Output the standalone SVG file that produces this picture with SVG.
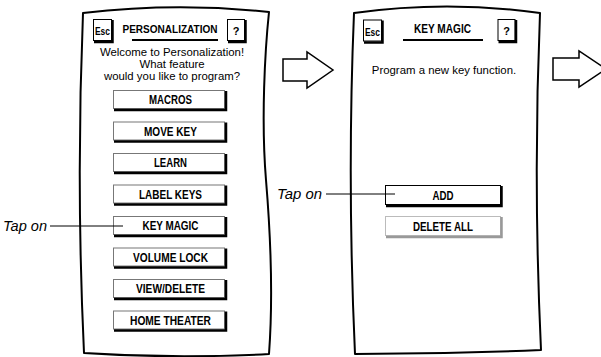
<svg xmlns="http://www.w3.org/2000/svg" width="601" height="357" viewBox="0 0 601 357">
<style>
.panel{fill:#fff;stroke:#000;stroke-width:2;stroke-linejoin:round}
.btn{fill:#fff;stroke:#777;stroke-width:1}
.sh{fill:none;stroke:#000;stroke-width:2.5}
.btnk{fill:#fff;stroke:#000;stroke-width:1}
.btng{fill:#fff;stroke:#bbb;stroke-width:1}
.shg{fill:none;stroke:#999;stroke-width:2.5}
.lbl{font-family:"Liberation Sans Narrow","Liberation Sans",Arial,sans-serif;font-weight:bold;font-size:12px;fill:#000;text-anchor:middle}
.ttl{font-family:"Liberation Sans Narrow","Liberation Sans",Arial,sans-serif;font-weight:bold;font-size:12.5px;fill:#000;text-anchor:middle}
.sm{font-size:11px}
.ttl1{font-size:10.5px}
.body{font-family:"Liberation Sans",Arial,sans-serif;font-size:11.4px;fill:#000;text-anchor:middle}
.tap{font-family:"Liberation Sans Narrow","Liberation Sans",Arial,sans-serif;font-style:italic;font-size:15px;fill:#000}
.ul{stroke:#000;stroke-width:2}
.conn{stroke:#000;stroke-width:1;fill:none}
.arrow{fill:#fff;stroke:#000;stroke-width:1.5;stroke-linejoin:miter}
</style>

<g id="panel-personalization">
<path class="panel" d="M83,13 Q176,2 269,12 C265,50 261,120 266,180 C271,240 273,300 269,354 Q175,359 84,353 Q76,183 83,13 Z"/>
<g id="esc1">
<rect class="btnk" x="93.5" y="19.5" width="18" height="21"/>
<polyline class="sh" points="94,42 112.5,42 112.5,20"/>
<text class="ttl sm" x="102.5" y="35" textLength="15" lengthAdjust="spacingAndGlyphs">Esc</text>
</g>
<text class="ttl ttl1" x="170" y="33" textLength="95" lengthAdjust="spacingAndGlyphs">PERSONALIZATION</text>
<line class="ul" x1="132" y1="40" x2="218" y2="40"/>
<g id="help1">
<rect class="btnk" x="227.5" y="19.5" width="17" height="21"/>
<polyline class="sh" points="228,42 245.5,42 245.5,20"/>
<text class="ttl sm" x="236" y="35">?</text>
</g>
<text class="body" x="172" y="56">Welcome to Personalization!</text>
<text class="body" x="172" y="68">What feature</text>
<text class="body" x="172" y="80">would you like to program?</text>
<g id="btn-macros"><rect class="btn" x="113.5" y="90.5" width="111" height="18"/><polyline class="sh" points="114,110 226,110 226,91"/><text class="lbl" x="170.5" y="104" textLength="43" lengthAdjust="spacingAndGlyphs">MACROS</text></g>
<g id="btn-movekey"><rect class="btn" x="113.5" y="122" width="111" height="18"/><polyline class="sh" points="114,141.5 226,141.5 226,122.5"/><text class="lbl" x="170.5" y="135.5" textLength="53" lengthAdjust="spacingAndGlyphs">MOVE KEY</text></g>
<g id="btn-learn"><rect class="btn" x="113.5" y="153.5" width="111" height="18"/><polyline class="sh" points="114,173 226,173 226,154"/><text class="lbl" x="170.5" y="167" textLength="33" lengthAdjust="spacingAndGlyphs">LEARN</text></g>
<g id="btn-labelkeys"><rect class="btn" x="113.5" y="185" width="111" height="18"/><polyline class="sh" points="114,204.5 226,204.5 226,185.5"/><text class="lbl" x="170.5" y="198.5" textLength="63" lengthAdjust="spacingAndGlyphs">LABEL KEYS</text></g>
<g id="btn-keymagic"><rect class="btn" x="113.5" y="216.5" width="111" height="18"/><polyline class="sh" points="114,236 226,236 226,217"/><text class="lbl" x="170.5" y="230" textLength="56" lengthAdjust="spacingAndGlyphs">KEY MAGIC</text></g>
<g id="btn-volumelock"><rect class="btn" x="113.5" y="248" width="111" height="18"/><polyline class="sh" points="114,267.5 226,267.5 226,248.5"/><text class="lbl" x="170.5" y="261.5" textLength="75" lengthAdjust="spacingAndGlyphs">VOLUME LOCK</text></g>
<g id="btn-viewdelete"><rect class="btn" x="113.5" y="279.5" width="111" height="18"/><polyline class="sh" points="114,299 226,299 226,280"/><text class="lbl" x="170.5" y="293" textLength="69" lengthAdjust="spacingAndGlyphs">VIEW/DELETE</text></g>
<g id="btn-hometheater"><rect class="btn" x="113.5" y="311" width="111" height="18"/><polyline class="sh" points="114,330.5 226,330.5 226,311.5"/><text class="lbl" x="170.5" y="324.5" textLength="81" lengthAdjust="spacingAndGlyphs">HOME THEATER</text></g>
</g>

<g id="panel-keymagic">
<path class="panel" d="M354,13 Q447,0 540,13 Q533,180 541,350 Q448,354 355,354 Q347,180 354,13 Z"/>
<g id="esc2">
<rect class="btnk" x="363.5" y="20" width="18" height="21"/>
<polyline class="sh" points="364,42.5 382.5,42.5 382.5,20.5"/>
<text class="ttl sm" x="372.5" y="35.5" textLength="15" lengthAdjust="spacingAndGlyphs">Esc</text>
</g>
<text class="ttl" x="442.5" y="33" textLength="57" lengthAdjust="spacingAndGlyphs">KEY MAGIC</text>
<line class="ul" x1="403" y1="40" x2="483" y2="40"/>
<g id="help2">
<rect class="btnk" x="498" y="19.5" width="17" height="21"/>
<polyline class="sh" points="498.5,42 516,42 516,20"/>
<text class="ttl sm" x="506.5" y="35">?</text>
</g>
<text class="body" x="444" y="74">Program a new key function.</text>
<g id="btn-add"><rect class="btnk" x="385.5" y="185.5" width="115" height="19"/><polyline class="sh" points="386,206 501.5,206 501.5,186"/><text class="lbl" x="443" y="199.5" textLength="21" lengthAdjust="spacingAndGlyphs">ADD</text></g>
<g id="btn-deleteall"><rect class="btng" x="385.5" y="216.5" width="115" height="19"/><polyline class="shg" points="386,237 501.5,237 501.5,217"/><text class="lbl" x="443" y="230.5" textLength="60" lengthAdjust="spacingAndGlyphs">DELETE ALL</text></g>
</g>

<g id="connectors">
<text class="tap" x="3" y="231" textLength="44" lengthAdjust="spacingAndGlyphs">Tap on</text>
<line class="conn" x1="50" y1="226" x2="123" y2="226"/>
<text class="tap" x="277" y="199" textLength="45" lengthAdjust="spacingAndGlyphs">Tap on</text>
<line class="conn" x1="326" y1="194" x2="395" y2="194"/>
<polygon class="arrow" points="283,59 307,59 307,52 333,70 307,88 307,81 283,81"/>
<polygon class="arrow" points="553,58 579,58 579,51 606,69 579,87 579,80 553,80"/>
</g>
</svg>
